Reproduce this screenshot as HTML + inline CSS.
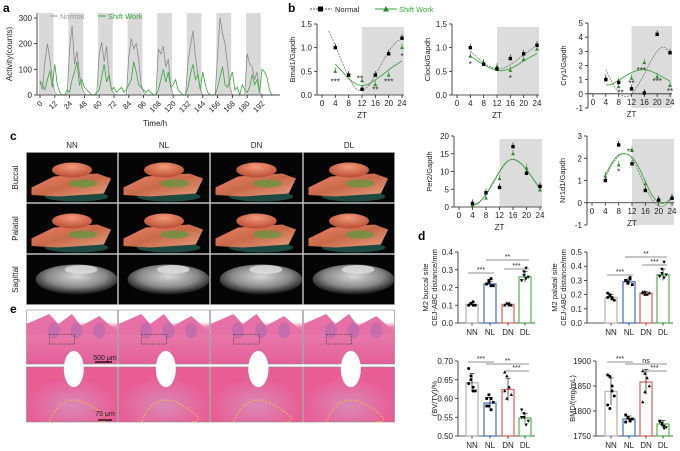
<!DOCTYPE html>
<html><head><meta charset="utf-8">
<style>
html,body{margin:0;padding:0;background:#fff;}
svg{display:block;font-family:"Liberation Sans",Arial,sans-serif;}
</style></head>
<body>
<svg id="fig" width="680" height="451" viewBox="0 0 680 451" xmlns="http://www.w3.org/2000/svg">
<defs>
<linearGradient id="boneG" x1="0" y1="0" x2="1" y2="1"><stop offset="0" stop-color="#f0806a"/><stop offset="0.5" stop-color="#c86a4a"/><stop offset="1" stop-color="#e8a080"/></linearGradient>
<radialGradient id="toothG" cx="0.5" cy="0.3" r="0.7"><stop offset="0" stop-color="#f49a7a"/><stop offset="1" stop-color="#b84a30"/></radialGradient>
<radialGradient id="sagG" cx="0.5" cy="0.4" r="0.6"><stop offset="0" stop-color="#d8d8d8"/><stop offset="0.6" stop-color="#888"/><stop offset="1" stop-color="#111"/></radialGradient>
<linearGradient id="heTop" x1="0" y1="0" x2="0" y2="1"><stop offset="0" stop-color="#fff"/><stop offset="0.22" stop-color="#fff"/><stop offset="0.32" stop-color="#e97fb0"/><stop offset="1" stop-color="#e45e98"/></linearGradient>
<radialGradient id="heBot" cx="0.5" cy="0.7" r="0.5"><stop offset="0" stop-color="#d98ab8"/><stop offset="1" stop-color="#e95d95"/></radialGradient>
</defs>
</svg>
<script>
// ---------- data ----------
const actHours = [0,2,4,6,8,10,12,14,16,18,20,22,24,26,28,30,32,34,36,38,40,42,44,46,48,50,52,54,56,58,60,62,64,66,68,70,72,74,76,78,80,82,84,86,88,90,92,94,96,98,100,102,104,106,108,110,112,114,116,118,120,122,124,126,128,130,132,134,136,138,140,142,144,146,148,150,152,154,156,158,160,162,164,166,168,170,172,174,176,178,180,182,184,186,188,190,192,194];
const actNormal = [50,20,130,200,140,60,10,0,0,0,0,0,180,270,120,170,80,30,5,0,0,0,0,0,160,205,130,190,70,20,5,0,0,0,0,0,150,220,180,200,140,40,10,0,0,0,0,0,180,160,190,110,140,30,0,0,0,0,0,0,130,190,250,150,80,20,0,0,0,0,0,0,160,300,240,200,120,30,0,0,0,0,0,0,160,120,110,60,90,10,0,0,0,0,0,0,0,0];
const actShift = [55,40,20,60,95,30,120,40,10,0,0,20,10,60,90,130,40,60,30,20,10,0,0,10,20,70,120,50,80,20,30,10,20,30,10,20,40,60,130,90,40,30,20,10,20,10,0,0,20,60,100,50,90,30,40,60,20,10,0,0,30,80,120,60,80,20,90,40,10,0,0,0,30,70,110,40,30,60,90,20,30,0,40,20,10,30,80,40,60,10,100,90,70,20,0,0];
const actTickLabels = ['0','12','24','48','60','72','84','96','108','120','132','144','156','168','180','192'];
const zt = [4,8,12,16,20,24];
const fitZT = [2,4,6,8,10,12,14,16,18,20,22,24];
const bmal1N=[1.0,0.42,0.12,0.42,0.87,1.2], bmal1S=[0.5,0.42,0.3,0.22,0.42,1.0];
const bmal1FitN=[1.35,1.05,0.7,0.38,0.15,0.1,0.2,0.42,0.68,0.92,1.1,1.2], bmal1FitS=[null,0.65,0.5,0.35,0.24,0.2,0.23,0.32,0.42,0.53,0.63,0.72];
const clockN=[1.0,0.65,0.55,0.77,0.87,1.05], clockS=[0.82,0.68,0.6,0.52,0.75,0.97];
const clockFitN=[null,0.93,0.8,0.68,0.6,0.55,0.57,0.64,0.74,0.85,0.95,1.05], clockFitS=[null,0.82,0.73,0.64,0.57,0.52,0.52,0.56,0.63,0.72,0.8,0.88];
const cry1N=[1.0,0.8,0.35,0.05,4.2,2.9], cry1S=[1.1,0.5,1.1,2.2,1.2,0.6];
const cry1FitN=[null,1.7,0.8,0.1,-0.2,0.0,0.6,1.4,2.3,3.0,3.3,2.9], cry1FitS=[null,0.6,0.7,0.95,1.25,1.5,1.65,1.7,1.6,1.4,1.15,0.9];
const per2N=[1,4,5.5,17,9.5,5.8], per2S=[0.5,2.5,8,15,11,4.8];
const per2FitN=[null,0.5,1.5,3.5,6.5,9.8,12.5,13.5,12.6,10.5,7.8,5.0], per2FitS=[null,0.3,1.3,3.6,6.8,10,12.6,13.4,12.5,10.6,7.9,5.2];
const nr1d1N=[1.0,2.6,1.75,0.55,0.12,0.2], nr1d1S=[1.2,1.7,2.35,0.85,0.15,0.25];
const nr1d1FitN=[null,1.15,1.7,2.1,2.2,2.0,1.4,0.7,0.15,-0.15,-0.1,0.2], nr1d1FitS=[null,1.25,1.8,2.15,2.2,2.05,1.6,0.95,0.35,0.02,0.0,0.25];
const groups=['NN','NL','DN','DL'];
const buccalMean=[0.105,0.22,0.105,0.26], buccalSD=[0.01,0.015,0.008,0.03];
const buccalDots=[[.10,.11,.12,.10,.10,.11,.10],[.22,.24,.25,.21,.22,.23,.21],[.10,.11,.11,.10,.10,.11,.10],[.24,.29,.31,.26,.24,.27,.25]];
const palatalMean=[0.18,0.29,0.21,0.34], palatalSD=[0.02,0.02,0.01,0.04];
const palatalDots=[[.18,.20,.17,.16,.21,.19,.18],[.30,.28,.31,.27,.30,.29,.32],[.21,.22,.20,.21,.22,.20],[.33,.38,.43,.34,.33,.35,.32]];
const bvtvMean=[0.642,0.588,0.624,0.548], bvtvSD=[0.025,0.015,0.03,0.012];
const bvtvDots=[[.68,.66,.62,.62,.64,.65,.63],[.60,.58,.57,.59,.58,.61,.60],[.67,.66,.63,.61,.62,.60,.63],[.57,.56,.53,.54,.55,.55,.53]];
const bmdMean=[1839,1784,1858,1774], bmdSD=[27,6,25,7];
const bmdDots=[[1872,1869,1850,1830,1812,1805,1840],[1792,1786,1780,1784,1778,1787,1783],[1880,1875,1866,1850,1818,1838],[1780,1776,1770,1767,1778,1772,1765]];
const barColors=['#b8b8b8','#4a78c8','#e06a6a','#60b860'];

// ---------- helpers ----------
const NS='http://www.w3.org/2000/svg';
const svg=document.getElementById('fig');
function mk(tag,attrs,parent){const e=document.createElementNS(NS,tag);for(const k in attrs)e.setAttribute(k,attrs[k]);(parent||svg).appendChild(e);return e;}
function txt(x,y,s,size,opts){opts=opts||{};const t=mk('text',{x:x,y:y,'font-size':size,fill:opts.fill||'#222','text-anchor':opts.anchor||'middle','font-weight':opts.bold?'bold':'normal'},opts.parent);if(opts.rot)t.setAttribute('transform','rotate('+opts.rot+' '+x+' '+y+')');t.textContent=s;return t;}
function lin(d0,d1,r0,r1){return v=>r0+(v-d0)*(r1-r0)/(d1-d0);}
function smoothPath(pts){if(pts.length<2)return '';let d='M'+pts[0][0]+','+pts[0][1];for(let i=0;i<pts.length-1;i++){const p0=pts[i-1]||pts[i],p1=pts[i],p2=pts[i+1],p3=pts[i+2]||p2;const c1=[p1[0]+(p2[0]-p0[0])/6,p1[1]+(p2[1]-p0[1])/6],c2=[p2[0]-(p3[0]-p1[0])/6,p2[1]-(p3[1]-p1[1])/6];d+=' C'+c1+' '+c2+' '+p2;}return d;}

[['a',3,12],['b',288,12],['c',10,140],['d',418,240],['e',10,313]].forEach(p=>{const t=txt(p[1],p[2],p[0],12,{anchor:'start',bold:true,fill:'#000'});});

// ---------- panel a ----------
(function(){
const g=mk('g',{});


const x=lin(0,180,40,262), y=lin(0,300,95,18);
for(let k=0;k<8;k++){const x0=Math.max(x(24*k-1),37),x1=x(24*k+11);const r=mk('rect',{x:x0,y:13,width:x1-x0,height:82,fill:'#d9d9d9'},g);}
const toPts=(arr)=>arr.map((v,i)=>x(actHours[i])+','+y(v)).join(' ');
const ln=mk('polyline',{points:toPts(actNormal),fill:'none',stroke:'#8a8a8a','stroke-width':0.8},g);

const ls=mk('polyline',{points:toPts(actShift),fill:'none',stroke:'#3aa63a','stroke-width':0.8},g);

mk('line',{x1:37,y1:13,x2:37,y2:95,stroke:'#222','stroke-width':0.8},g);
mk('line',{x1:37,y1:95,x2:280,y2:95,stroke:'#222','stroke-width':0.8},g);
[0,100,200,300].forEach(v=>{mk('line',{x1:34,x2:37,y1:y(v),y2:y(v),stroke:'#222','stroke-width':0.8},g);txt(32,y(v)+3,String(v),8,{anchor:'end',parent:g});});
actTickLabels.forEach((s,i)=>{const xx=x(i*12);mk('line',{x1:xx,x2:xx,y1:95,y2:98,stroke:'#222','stroke-width':0.8},g);const t=txt(xx+3,104,s,7.5,{anchor:'end',rot:-45,parent:g});});
txt(155,126,'Time/h',8,{parent:g});
txt(12,54,'Activity(counts)',8,{rot:-90,parent:g});
mk('line',{x1:50,x2:58,y1:16,y2:16,stroke:'#999'},g);txt(60,19,'Normal',7.5,{anchor:'start',fill:'#999',parent:g});
mk('line',{x1:98,x2:106,y1:16,y2:16,stroke:'#3aa63a'},g);txt(108,19,'Shift Work',7.5,{anchor:'start',fill:'#3aa63a',parent:g});
})();

// legend b
(function(){
const g=mk('g',{});


mk('line',{x1:310,x2:332,y1:9,y2:9,stroke:'#555','stroke-dasharray':'2,1'},g);mk('rect',{x:318,y:6.5,width:5,height:5,fill:'#000'},g);
txt(335,12,'Normal',7.5,{anchor:'start',parent:g});
mk('line',{x1:375,x2:397,y1:9,y2:9,stroke:'#3aa63a'},g);mk('polygon',{points:'386,6 389,11.5 383,11.5',fill:'#2e8b2e'},g);
txt(399,12,'Shift Work',7.5,{anchor:'start',fill:'#3aa63a',parent:g});
})();

// ---------- panel b ----------
let clipId=0;
function ztChart(name,cfg){
const g=mk('g',{});


const x=lin(0,24,cfg.x0,cfg.x24), y=lin(cfg.ymin,cfg.ymax,cfg.yb,cfg.yt);
const axX=cfg.x0-5;
const cp=mk('clipPath',{id:'cp'+(++clipId)},g);
mk('rect',{x:axX,y:cfg.yt,width:x(24)+4-axX,height:y(cfg.ymin)-cfg.yt},cp);
mk('rect',{x:x(12),y:cfg.yt+3,width:x(24)-x(12)+2,height:y(cfg.ymin)-cfg.yt-3,fill:'#dcdcdc'},g);
mk('line',{x1:axX,x2:axX,y1:cfg.yt,y2:y(cfg.ymin),stroke:'#222','stroke-width':0.8},g);
const yAx=y(cfg.axisAt);
mk('line',{x1:axX,x2:x(24)+2,y1:yAx,y2:yAx,stroke:'#222','stroke-width':0.8},g);
cfg.yticks.forEach(v=>{mk('line',{x1:axX-3,x2:axX,y1:y(v),y2:y(v),stroke:'#222','stroke-width':0.8},g);txt(axX-5,y(v)+3,cfg.fmt(v),8,{anchor:'end',parent:g});});
[0,4,8,12,16,20,24].forEach(v=>{mk('line',{x1:x(v),x2:x(v),y1:yAx,y2:yAx+3,stroke:'#222','stroke-width':0.8},g);txt(x(v),yAx+11,String(v),8,{parent:g});});
txt((x(0)+x(24))/2,yAx+23,'ZT',8,{parent:g});
txt(axX-22,(cfg.yt+y(cfg.ymin))/2,cfg.title,7.5,{rot:-90,parent:g});
const fp=(arr)=>smoothPath(fitZT.map((t,i)=>arr[i]==null?null:[x(t),y(arr[i])]).filter(p=>p));
const cn=mk('path',{d:fp(cfg.fitN),fill:'none',stroke:'#777','stroke-width':0.8,'stroke-dasharray':'2,1','clip-path':'url(#cp'+clipId+')'},g);

const cs=mk('path',{d:fp(cfg.fitS),fill:'none',stroke:'#3aa63a','stroke-width':0.9,'clip-path':'url(#cp'+clipId+')'},g);

zt.forEach((t,i)=>{
 const yn=y(cfg.N[i]),ys=y(cfg.S[i]);
 mk('line',{x1:x(t),x2:x(t),y1:ys,y2:ys-4,stroke:'#3aa63a','stroke-width':0.7},g);
 const ps=mk('polygon',{points:(x(t))+','+(ys-2)+' '+(x(t)+2)+','+(ys+1.5)+' '+(x(t)-2)+','+(ys+1.5),fill:'#2e8b2e'},g);
 
 mk('line',{x1:x(t),x2:x(t),y1:yn,y2:yn-4,stroke:'#222','stroke-width':0.7},g);
 const pn=mk('rect',{x:x(t)-1.7,y:yn-1.7,width:3.4,height:3.4,fill:'#000'},g);
 
});
(cfg.stars||[]).forEach(s=>txt(x(s[0])+(s[3]||0),y(s[1])+3,s[2],8,{parent:g}));
}
ztChart('bmal1-chart',{x0:322,x24:402,ymin:0,ymax:1.5,yb:95,yt:24,axisAt:0,yticks:[0,0.5,1,1.5],fmt:v=>v.toFixed(1),title:'Bmal1/Gapdh',N:bmal1N,S:bmal1S,fitN:bmal1FitN,fitS:bmal1FitS,stars:[[4,0.28,'***',0],[12,0.35,'**',-2],[16,0.12,'**',0],[20,0.28,'***',0],[24,0.82,'*',0]]});
ztChart('clock-chart',{x0:457,x24:537,ymin:0,ymax:1.5,yb:95,yt:24,axisAt:0,yticks:[0,0.5,1,1.5],fmt:v=>v.toFixed(1),title:'Clock/Gapdh',N:clockN,S:clockS,fitN:clockFitN,fitS:clockFitS,stars:[[4,0.66,'*',0],[16,0.36,'*',0]]});
ztChart('cry1-chart',{x0:593,x24:670,ymin:-1,ymax:5,yb:108,yt:23,axisAt:0,yticks:[-1,0,1,2,3,4,5],fmt:v=>String(v),title:'Cry1/Gapdh',N:cry1N,S:cry1S,fitN:cry1FitN,fitS:cry1FitS,stars:[[8,0.1,'**',2],[12,0.75,'**',0],[16,1.7,'***',-3],[20,0.9,'***',0],[24,0.2,'**',0]]});
ztChart('per2-chart',{x0:459,x24:540,ymin:0,ymax:20,yb:207,yt:136,axisAt:0,yticks:[0,5,10,15,20],fmt:v=>String(v),title:'Per2/Gapdh',N:per2N,S:per2S,fitN:per2FitN,fitS:per2FitS});
ztChart('nr1d1-chart',{x0:592,x24:672,ymin:-1,ymax:3,yb:225,yt:136,axisAt:0,yticks:[-1,0,1,2,3],fmt:v=>String(v),title:'Nr1d1/Gapdh',N:nr1d1N,S:nr1d1S,fitN:nr1d1FitN,fitS:nr1d1FitS,stars:[[8,1.4,'*',0],[12,2.3,'**',-2]]});

// ---------- panel c ----------
(function(){
const g=mk('g',{});


const cols=[26,118,210,303,395], rows=[152,203,254,305];
groups.forEach((s,i)=>{const t=txt((cols[i]+cols[i+1])/2,148,s,8,{parent:g});});
['Buccal','Palatal','Sagittal'].forEach((s,j)=>txt(18,(rows[j]+rows[j+1])/2,s,8,{rot:-90,parent:g}));
for(let j=0;j<3;j++)for(let i=0;i<4;i++){
 const x0=cols[i]+0.5,y0=rows[j]+0.5,w=cols[i+1]-cols[i]-1,h=rows[j+1]-rows[j]-1;
 const cell=mk('g',{},g);
 
 
 mk('rect',{x:x0,y:y0,width:w,height:h,fill:'#050505',stroke:'#999','stroke-width':0.6},cell);
 if(j<2){
  mk('ellipse',{cx:x0+w*0.55,cy:y0+h*0.88,rx:w*0.35,ry:h*0.1,fill:'#1d4a40'},cell);
  mk('polygon',{points:(x0+5)+','+(y0+h*0.7)+' '+(x0+w*0.3)+','+(y0+h*0.48)+' '+(x0+w*0.78)+','+(y0+h*0.42)+' '+(x0+w*0.93)+','+(y0+h*0.52)+' '+(x0+w*0.85)+','+(y0+h*0.82)+' '+(x0+w*0.35)+','+(y0+h*0.88)+' '+(x0+5)+','+(y0+h*0.85),fill:'url(#boneG)'},cell);
  mk('ellipse',{cx:x0+w*0.62,cy:y0+h*0.62,rx:w*0.16,ry:h*0.08,fill:'#5a9a40',opacity:0.7},cell);
  mk('ellipse',{cx:x0+w*0.5,cy:y0+h*0.35,rx:w*0.22,ry:h*0.15,fill:'url(#toothG)'},cell);
 } else {
  mk('ellipse',{cx:x0+w*0.55,cy:y0+h*0.5,rx:w*0.45,ry:h*0.3,fill:'url(#sagG)'},cell);
  mk('ellipse',{cx:x0+w*0.6,cy:y0+h*0.3,rx:w*0.18,ry:h*0.09,fill:'#e0e0e0',opacity:0.8},cell);
 }
}
})();

// ---------- panel e ----------
(function(){
const g=mk('g',{});


const cols=[26,118,210,303,395];
for(let r=0;r<2;r++)for(let i=0;i<4;i++){
 const x0=cols[i]+0.5,y0=r?367:310,w=cols[i+1]-cols[i]-1,h=r?55:54;
 const cell=mk('g',{},g);
 
 
 if(r===0){
  mk('rect',{x:x0,y:y0,width:w,height:h,fill:'url(#heTop)',stroke:'#888','stroke-width':0.6},cell);
  mk('path',{d:'M'+x0+','+(y0+14)+' L'+(x0+w*0.25)+','+(y0+4)+' L'+(x0+w*0.35)+','+(y0+14)+' L'+(x0+w*0.5)+','+(y0+4)+' L'+(x0+w*0.6)+','+(y0+16)+' L'+(x0+w*0.8)+','+(y0+6)+' L'+(x0+w)+','+(y0+22)+' L'+(x0+w)+','+(y0+h*0.45)+' L'+x0+','+(y0+h*0.45)+'Z',fill:'#e771a6'},cell);
  for(let k=0;k<3;k++)mk('ellipse',{cx:x0+w*(0.3+k*0.25),cy:y0+h*0.38,rx:6,ry:8,fill:'#a868b0',opacity:0.55},cell);
  mk('rect',{x:x0+w*0.25,y:y0+h*0.45,width:w*0.28,height:h*0.18,fill:'none',stroke:'#444','stroke-dasharray':'2,1','stroke-width':0.6},cell);
 } else {
  mk('rect',{x:x0,y:y0,width:w,height:h,fill:'url(#heBot)',stroke:'#888','stroke-width':0.6},cell);
  mk('ellipse',{cx:x0+w*0.52,cy:y0+2,rx:w*0.11,ry:h*0.33,fill:'#fff'},cell);
  mk('path',{d:'M'+(x0+w*0.25)+','+(y0+h)+' Q'+(x0+w*0.4)+','+(y0+h*0.4)+' '+(x0+w*0.7)+','+(y0+h*0.7)+' T'+(x0+w*0.8)+','+(y0+h),fill:'none',stroke:'#f0d020','stroke-dasharray':'2,1.5','stroke-width':0.8},cell);
 }
}
txt(105,360,'500 μm',7,{parent:g});
mk('line',{x1:95,x2:112,y1:362,y2:362,stroke:'#000','stroke-width':1.2},g);
txt(105,416,'75 μm',7,{parent:g});
mk('line',{x1:98,x2:112,y1:420,y2:420,stroke:'#000','stroke-width':1.2},g);
})();

// ---------- panel d ----------
function barChart(name,cfg){
const g=mk('g',{});


const y=lin(cfg.ymin,cfg.ymax,cfg.yb,cfg.yt);
mk('line',{x1:cfg.ax,x2:cfg.ax,y1:cfg.yt,y2:cfg.yb,stroke:'#222','stroke-width':0.8},g);
mk('line',{x1:cfg.ax,x2:cfg.cx[3]+10,y1:cfg.yb,y2:cfg.yb,stroke:'#222','stroke-width':0.8},g);
cfg.ticks.forEach(v=>{mk('line',{x1:cfg.ax-3,x2:cfg.ax,y1:y(v),y2:y(v),stroke:'#222','stroke-width':0.8},g);txt(cfg.ax-5,y(v)+3,cfg.fmt(v),8,{anchor:'end',parent:g});});
cfg.title.forEach((s,k)=>txt(cfg.ax-30+k*9,(cfg.yt+cfg.yb)/2,s,7.5,{rot:-90,parent:g}));
cfg.mean.forEach((m,i)=>{
 const cx=cfg.cx[i];
 const b=mk('rect',{x:cx-6,y:y(m),width:12,height:cfg.yb-y(m),fill:'#fff',stroke:barColors[i],'stroke-width':1.3},g);
 
 mk('line',{x1:cx,x2:cx,y1:y(m-cfg.sd[i]),y2:y(m+cfg.sd[i]),stroke:'#222','stroke-width':0.7},g);
 mk('line',{x1:cx-2.5,x2:cx+2.5,y1:y(m+cfg.sd[i]),y2:y(m+cfg.sd[i]),stroke:'#222','stroke-width':0.7},g);
 cfg.dots[i].forEach((v,k)=>{const dx=((k%4)-1.5)*2.2;
  let d;
  if(i===0) d=mk('circle',{cx:cx+dx,cy:y(v),r:1.5,fill:'#000'},g);
  else if(i===1) d=mk('rect',{x:cx+dx-1.4,y:y(v)-1.4,width:2.8,height:2.8,fill:'#000'},g);
  else if(i===2) d=mk('polygon',{points:(cx+dx)+','+(y(v)-1.8)+' '+(cx+dx+1.7)+','+(y(v)+1.2)+' '+(cx+dx-1.7)+','+(y(v)+1.2),fill:'#000'},g);
  else d=mk('polygon',{points:(cx+dx)+','+(y(v)+1.8)+' '+(cx+dx+1.7)+','+(y(v)-1.2)+' '+(cx+dx-1.7)+','+(y(v)-1.2),fill:'#000'},g);
  
 });
 mk('line',{x1:cx,x2:cx,y1:cfg.yb,y2:cfg.yb+2.5,stroke:'#222','stroke-width':0.8},g);
 txt(cx,cfg.yb+12,groups[i],8,{parent:g});
});
cfg.sig.forEach(s=>{const a=cfg.cx[s[0]]-4,b=cfg.cx[s[1]]+4,yy=cfg.yt+s[2];mk('line',{x1:a,x2:b,y1:yy,y2:yy,stroke:'#222','stroke-width':0.6},g);txt((a+b)/2,yy-1,s[3],7,{parent:g});});
}
barChart('buccal-distance-chart',{ax:458,cx:[472,490,508,525],ymin:0,ymax:0.4,yb:323,yt:252,ticks:[0,0.1,0.2,0.3,0.4],fmt:v=>v.toFixed(1),title:['M2 buccal site','CEJ-ABC distance/mm'],mean:buccalMean,sd:buccalSD,dots:buccalDots,sig:[[0,1,21,'***'],[1,3,8,'**'],[2,3,17,'***']]});
barChart('palatal-distance-chart',{ax:587,cx:[611,629,646,663],ymin:0,ymax:0.5,yb:323,yt:252,ticks:[0,0.1,0.2,0.3,0.4,0.5],fmt:v=>v.toFixed(1),title:['M2 palatal site','CEJ-ABC distance/mm'],mean:palatalMean,sd:palatalSD,dots:palatalDots,sig:[[0,1,23,'***'],[1,3,5,'**'],[2,3,13,'***']]});
barChart('bvtv-chart',{ax:458,cx:[472,490,508,525],ymin:0.5,ymax:0.7,yb:436,yt:361,ticks:[0.5,0.55,0.6,0.65,0.7],fmt:v=>v.toFixed(2),title:['','(BV/TV)/%'],mean:bvtvMean,sd:bvtvSD,dots:bvtvDots,sig:[[0,1,1,'***'],[1,3,3,'**'],[2,3,10,'***']]});
barChart('bmd-chart',{ax:596,cx:[611,629,646,663],ymin:1750,ymax:1900,yb:436,yt:361,ticks:[1750,1800,1850,1900],fmt:v=>String(v),title:['','BMD/(mg/mL)'],mean:bmdMean,sd:bmdSD,dots:bmdDots,sig:[[0,1,1,'***'],[1,3,3,'ns'],[2,3,10,'***']]});
</script>
</body></html>
